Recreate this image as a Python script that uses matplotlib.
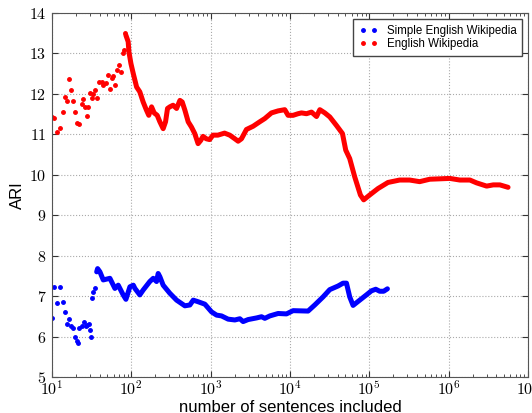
import math
import matplotlib
matplotlib.use('Agg')
import matplotlib.pyplot as plt
from matplotlib.ticker import FuncFormatter, LogLocator

plt.rcParams['mathtext.fontset'] = 'cm'
plt.rcParams['font.family'] = ['Liberation Sans', 'DejaVu Sans']

# Simple English Wikipedia: scattered start, then dense curve
simple_n_sparse = [10.0, 10.6, 11.7, 12.6, 13.6, 14.5, 15.5, 16.4, 17.3, 18.4,
                   19.5, 20.5, 21.2, 22.1, 23.7, 25.5, 26.6, 28.0, 29.2, 29.9,
                   31.0, 31.9, 33.1, 34.8]
simple_ari_sparse = [6.47, 7.23, 6.82, 7.23, 6.86, 6.61, 6.30, 6.43, 6.27, 6.22,
                     5.99, 5.88, 5.84, 6.20, 6.26, 6.36, 6.27, 6.28, 6.30, 6.15,
                     5.98, 6.95, 7.10, 7.20]
simple_n = [36.6, 37.6, 40.2, 44.3, 53.7, 62.1, 68.4, 79, 85.5, 96, 106, 111, 128,
            141, 171, 189, 208, 218, 229, 252, 306, 372, 473, 547, 603, 697, 846,
            1026, 1186, 1371, 1660, 2018, 2333, 2566, 2966, 3784, 4375, 4817, 5570,
            7080, 9036, 10940, 16900, 20500, 26100, 31700, 40360, 46670, 51500,
            56600, 62400, 75700, 91900, 106200, 120500, 135200, 151700, 169000]
simple_ari = [7.60, 7.68, 7.60, 7.40, 7.44, 7.19, 7.27, 7.03, 6.92, 7.23, 7.27, 7.19,
              7.03, 7.15, 7.36, 7.44, 7.36, 7.56, 7.48, 7.27, 7.07, 6.90, 6.76, 6.78,
              6.90, 6.86, 6.80, 6.61, 6.53, 6.51, 6.43, 6.41, 6.44, 6.37, 6.42, 6.46,
              6.49, 6.45, 6.51, 6.57, 6.56, 6.64, 6.63, 6.78, 6.98, 7.16, 7.25, 7.32,
              7.32, 6.98, 6.77, 6.90, 7.03, 7.13, 7.17, 7.12, 7.12, 7.18]

# English Wikipedia
en_n_sparse = [10.0, 10.7, 11.7, 12.6, 13.6, 14.6, 15.3, 16.4, 17.4, 18.5, 19.5,
               20.8, 22.1, 23.7, 24.8, 26.0, 27.9, 28.7, 30.1, 31.6, 33.1, 34.8,
               36.6, 39.4, 42.2, 44.3, 47.9, 51.2, 53.7, 56.5, 59.1, 62.1, 66.4,
               70.4, 73.3, 77.7, 80.6, 83.0]
en_ari_sparse = [11.44, 11.40, 11.06, 11.15, 11.56, 11.93, 11.83, 12.38, 12.10, 11.83,
                 11.56, 11.29, 11.26, 11.75, 11.87, 11.68, 11.45, 11.68, 12.03, 11.89,
                 12.00, 12.10, 11.89, 12.30, 12.30, 12.22, 12.26, 12.47, 12.11, 12.40,
                 12.45, 12.22, 12.59, 12.71, 12.55, 13.00, 13.08, 13.50]
en_n = [85.5, 91.3, 93.3, 98.9, 105.9, 116.6, 128, 141, 155, 166, 180, 194, 212, 229,
        252, 270, 286, 306, 336, 372, 410, 438, 473, 521, 573, 630, 694, 750, 801, 881,
        971, 1068, 1233, 1497, 1740, 2018, 2220, 2446, 2826, 3429, 4156, 4810, 5840,
        7090, 8600, 9460, 10940, 12640, 13950, 16140, 18670, 21600, 23770, 27470,
        31740, 38500, 45830, 50400, 56600, 65400, 77200, 84900, 101000, 128700,
        171800, 241000, 322000, 431000, 577000, 772000, 1034000, 1384000, 1853000,
        2247000, 3008000, 3648000, 4422000, 5603000]
en_ari = [13.45, 13.29, 13.04, 12.75, 12.50, 12.17, 12.05, 11.80, 11.60, 11.47, 11.68,
          11.53, 11.47, 11.31, 11.14, 11.31, 11.64, 11.68, 11.72, 11.64, 11.84, 11.80,
          11.60, 11.31, 11.18, 11.02, 10.77, 10.85, 10.95, 10.89, 10.87, 10.98, 10.98,
          11.03, 10.98, 10.89, 10.83, 10.89, 11.12, 11.20, 11.31, 11.39, 11.53, 11.58,
          11.61, 11.47, 11.47, 11.51, 11.53, 11.51, 11.55, 11.44, 11.61, 11.53, 11.43,
          11.22, 11.02, 10.61, 10.40, 9.95, 9.50, 9.38, 9.50, 9.66, 9.81, 9.87, 9.87,
          9.83, 9.89, 9.90, 9.91, 9.87, 9.87, 9.80, 9.72, 9.75, 9.75, 9.69]

fig = plt.figure(figsize=(5.32, 4.13), dpi=100)
ax = fig.add_axes([0.0977, 0.0872, 0.8948, 0.8813])

ax.plot(simple_n_sparse, simple_ari_sparse, '.', color='blue', ms=5,
        label='Simple English Wikipedia')
ax.plot(simple_n, simple_ari, '-', color='blue', lw=3.6,
        solid_joinstyle='round', solid_capstyle='round')
ax.plot(en_n_sparse, en_ari_sparse, '.', color='red', ms=5,
        label='English Wikipedia')
ax.plot(en_n, en_ari, '-', color='red', lw=3.6,
        solid_joinstyle='round', solid_capstyle='round')

ax.set_xscale('log')
ax.set_xlim(10, 1e7)
ax.set_ylim(5, 14)
ax.set_yticks(range(5, 15))
ax.xaxis.set_major_locator(LogLocator(base=10, numticks=10))
ax.xaxis.set_major_formatter(FuncFormatter(lambda v, p: r'$10^{%d}$' % round(math.log10(v))))
ax.yaxis.set_major_formatter(FuncFormatter(lambda v, p: r'$%d$' % v))

ax.tick_params(which='both', direction='in', top=True, right=True,
               labelsize=11.5, color='#333333')
ax.tick_params(which='major', length=4)
ax.tick_params(axis='x', which='major', pad=2)
ax.tick_params(axis='y', which='major', pad=4)
ax.tick_params(which='minor', length=2)
for s in ax.spines.values():
    s.set_color('#555555')

ax.grid(True, which='major', linestyle=':', color='#aaaaaa', lw=0.8)

ax.set_xlabel('number of sentences included', fontsize=12, labelpad=1)
ax.set_ylabel('ARI', fontsize=12, labelpad=3)

leg = ax.legend(loc='upper right', numpoints=2, fontsize=8.3, fancybox=False,
                labelspacing=0.15, handlelength=1.6, borderpad=0.5, framealpha=1)
leg.get_frame().set_edgecolor('#444444')

fig.savefig('out.png', dpi=100)
